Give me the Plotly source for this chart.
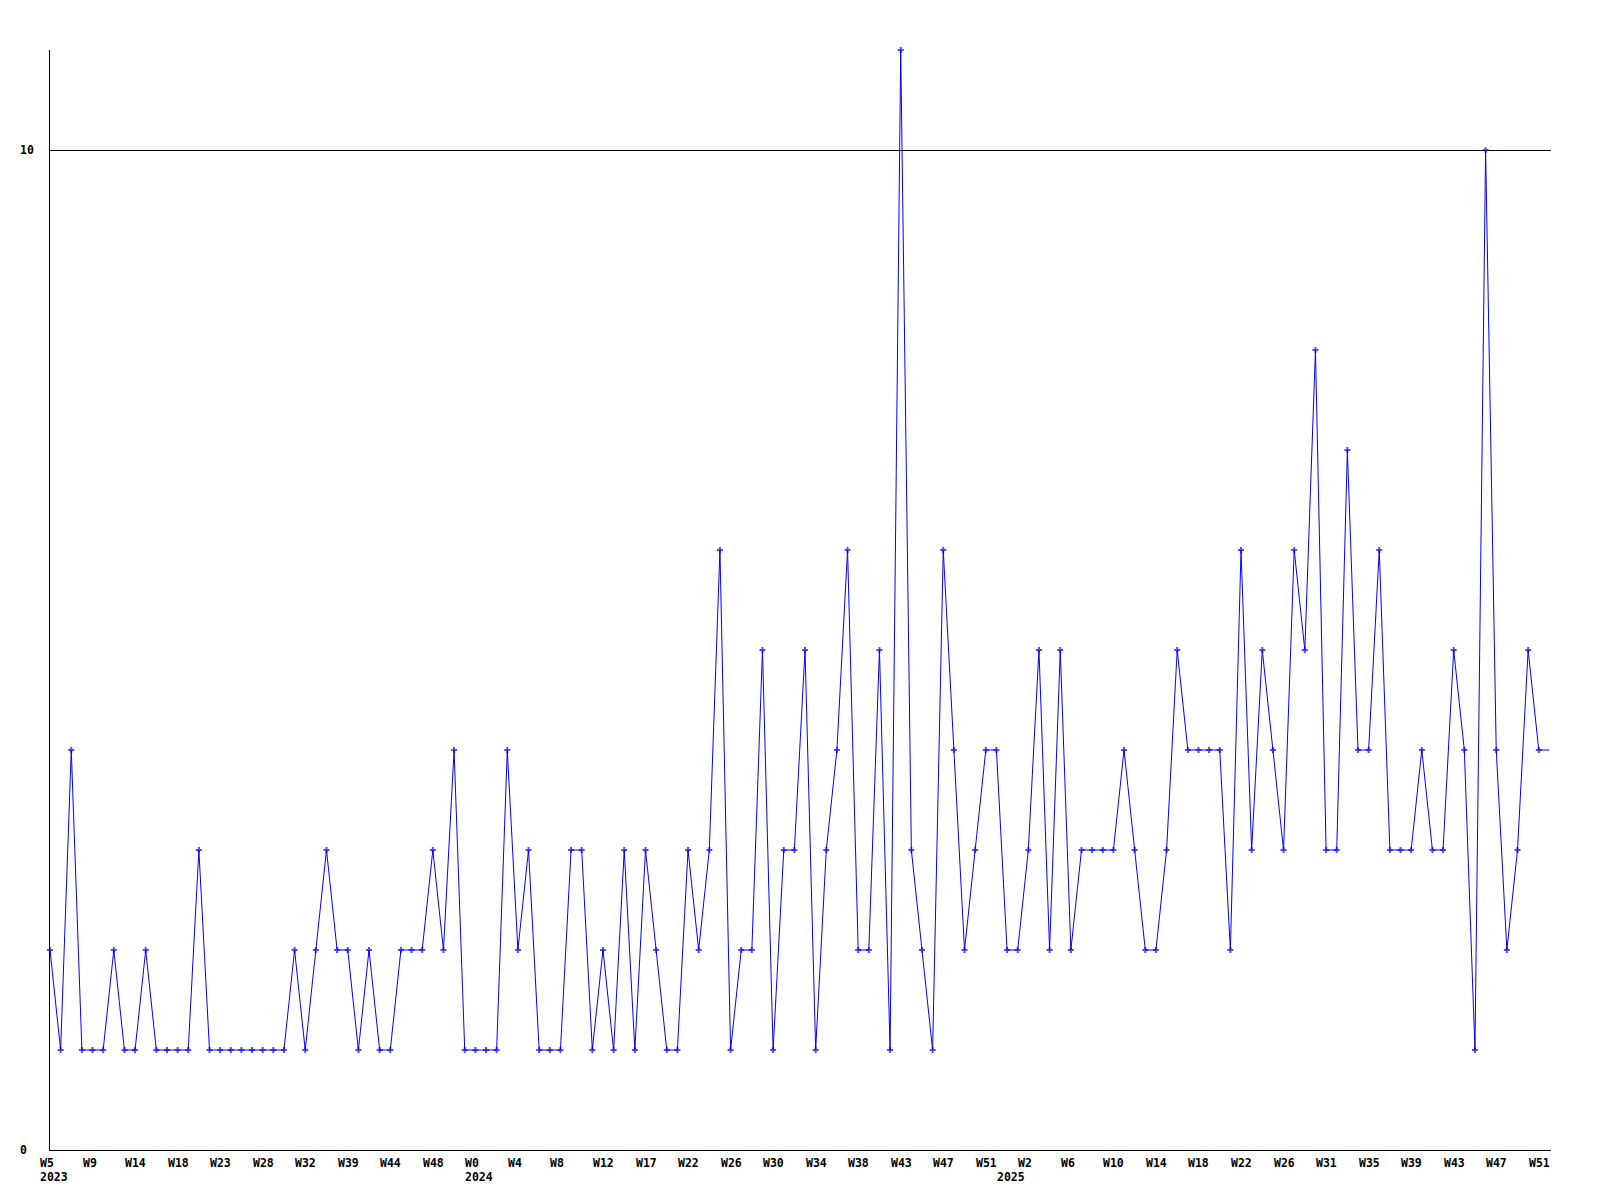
import plotly.graph_objects as go

# Weekly values, in order (one per week index)
values = [2, 1, 4, 1, 1, 1, 2, 1, 1, 2, 1, 1, 1, 1, 3, 1, 1, 1, 1, 1,
          1, 1, 1, 2, 1, 2, 3, 2, 2, 1, 2, 1, 1, 2, 2, 2, 3, 2, 4, 1,
          1, 1, 1, 4, 2, 3, 1, 1, 1, 3, 3, 1, 2, 1, 3, 1, 3, 2, 1, 1,
          3, 2, 3, 6, 1, 2, 2, 5, 1, 3, 3, 5, 1, 3, 4, 6, 2, 2, 5, 1,
          11, 3, 2, 1, 6, 4, 2, 3, 4, 4, 2, 2, 3, 5, 2, 5, 2, 3, 3, 3,
          3, 4, 3, 2, 2, 3, 5, 4, 4, 4, 4, 2, 6, 3, 5, 4, 3, 6, 5, 8,
          3, 3, 7, 4, 4, 6, 3, 3, 3, 4, 3, 3, 5, 4, 1, 10, 4, 2, 3, 5,
          4, 4]

# Week tick labels (one every 4 points) and year labels
tick_index = list(range(0, 141, 4))
tick_labels = ["W5", "W9", "W14", "W18", "W23", "W28", "W32", "W39", "W44", "W48",
               "W0", "W4", "W8", "W12", "W17", "W22", "W26", "W30", "W34", "W38",
               "W43", "W47", "W51", "W2", "W6", "W10", "W14", "W18", "W22", "W26",
               "W31", "W35", "W39", "W43", "W47", "W51"]
year_index = [0, 40, 90]
year_labels = ["2023", "2024", "2025"]
y_ticks = [0, 10]

x = list(range(len(values)))
marker_sizes = [5] * (len(values) - 1) + [0]

FONT = dict(family="DejaVu Sans Mono", size=11.5, color="black")

fig = go.Figure()
fig.add_trace(go.Scatter(
    x=x, y=values, mode="lines+markers",
    line=dict(color="#0000ff", width=1),
    marker=dict(symbol="cross", size=marker_sizes, color="#0000ff", line=dict(width=0)),
    cliponaxis=False, hoverinfo="skip", showlegend=False,
))

annotations = []
for i, lab in zip(tick_index, tick_labels):
    annotations.append(dict(x=i, y=0, xref="x", yref="y", text=f"<b>{lab}</b>",
                            showarrow=False, xanchor="left", yanchor="middle",
                            xshift=-11, yshift=-12.5, font=FONT, borderpad=0))
for i, lab in zip(year_index, year_labels):
    annotations.append(dict(x=i, y=0, xref="x", yref="y", text=f"<b>{lab}</b>",
                            showarrow=False, xanchor="left", yanchor="middle",
                            xshift=-11, yshift=-27, font=FONT, borderpad=0))
for v in y_ticks:
    annotations.append(dict(x=0, y=v, xref="paper", yref="y", text=f"<b>{v}</b>",
                            showarrow=False, xanchor="left", yanchor="middle",
                            xshift=-31, font=FONT, borderpad=0))

fig.update_layout(
    width=1584, height=1184,
    margin=dict(l=42, r=41, t=42, b=42),
    paper_bgcolor="white", plot_bgcolor="white",
    annotations=annotations,
    xaxis=dict(range=[0, 141.15], showgrid=False, zeroline=False, showline=True,
               linecolor="black", linewidth=1, showticklabels=False, ticks=""),
    yaxis=dict(range=[0, 11], tickvals=y_ticks, showgrid=True, gridcolor="black",
               gridwidth=1, zeroline=False, showline=True, linecolor="black",
               linewidth=1, showticklabels=False, ticks=""),
)

fig.write_html("out.html")
